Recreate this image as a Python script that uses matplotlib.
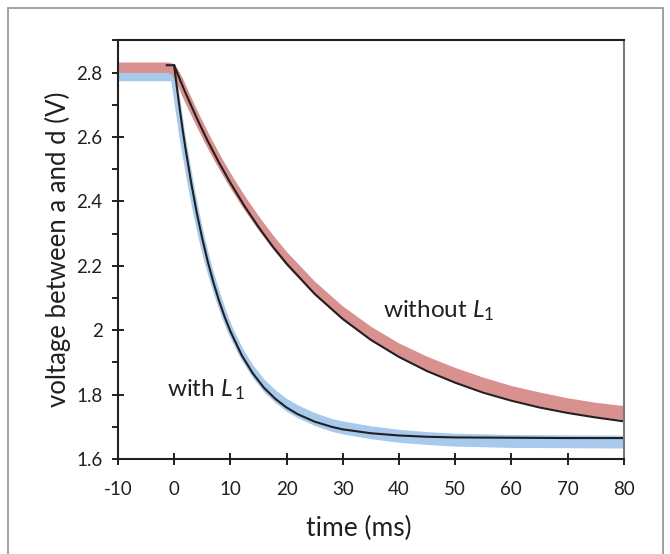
import matplotlib
matplotlib.use("Agg")
import matplotlib.pyplot as plt
from matplotlib.patches import Rectangle
from matplotlib.ticker import MultipleLocator

plt.rcParams['font.family'] = ['Lato', 'DejaVu Sans']
plt.rcParams['mathtext.fontset'] = 'custom'
plt.rcParams['mathtext.rm'] = 'Lato'
plt.rcParams['mathtext.it'] = 'Lato:italic'
plt.rcParams['axes.unicode_minus'] = False

# ---- measured traces (read off the figure) ----
# with L1 (blue)
t_blue = [-10, -5, -0.3, 0, 0.5, 1, 1.5, 2, 3, 4, 5, 6, 7, 8, 9, 10, 12, 14, 16,
          18, 20, 22, 25, 28, 30, 35, 40, 45, 50, 60, 70, 80]
v_blue = [2.795, 2.795, 2.795, 2.78, 2.72, 2.66, 2.60, 2.55, 2.45, 2.36, 2.28,
          2.21, 2.15, 2.095, 2.045, 2.00, 1.928, 1.872, 1.828, 1.795, 1.768,
          1.748, 1.724, 1.706, 1.698, 1.683, 1.672, 1.665, 1.660, 1.656, 1.655,
          1.654]
blue_noise = 0.02

# without L1 (red)
t_red = [-10, -5, -1, 0, 1, 2, 3, 4, 5, 6, 8, 10, 12.5, 15, 17.5, 20, 25, 30,
         35, 40, 45, 50, 55, 60, 65, 70, 75, 80]
v_red = [2.811, 2.811, 2.811, 2.806, 2.775, 2.735, 2.697, 2.66, 2.625, 2.59,
         2.525, 2.465, 2.396, 2.333, 2.275, 2.222, 2.130, 2.053, 1.990, 1.938,
         1.897, 1.862, 1.832, 1.806, 1.786, 1.768, 1.754, 1.744]
red_noise = 0.022

# ---- fitted curves (black) ----
t_fit_blue = [0, 0.5, 1, 1.5, 2, 3, 4, 5, 6, 7, 8, 9, 10, 12, 14, 16, 18, 20,
              22, 25, 28, 30, 35, 40, 45, 50, 60, 70, 80]
v_fit_blue = [2.823, 2.753, 2.687, 2.625, 2.567, 2.461, 2.367, 2.285, 2.212,
              2.148, 2.091, 2.041, 1.997, 1.923, 1.866, 1.821, 1.787, 1.760,
              1.739, 1.716, 1.700, 1.692, 1.680, 1.673, 1.669, 1.667, 1.666,
              1.665, 1.665]

t_fit_red = [-1.3, 0, 1, 2, 3, 4, 5, 6, 8, 10, 12.5, 15, 17.5, 20, 25, 30, 35,
             40, 45, 50, 55, 60, 65, 70, 75, 80]
v_fit_red = [2.823, 2.823, 2.780, 2.738, 2.699, 2.660, 2.623, 2.587, 2.520,
             2.458, 2.386, 2.321, 2.261, 2.207, 2.113, 2.035, 1.970, 1.917,
             1.873, 1.837, 1.806, 1.781, 1.760, 1.743, 1.729, 1.717]

RED = '#d8918f'
BLUE = '#a7c9ec'
INK = '#231f20'

fig = plt.figure(figsize=(6.70, 5.54), dpi=100)
ax = fig.add_axes([0.176, 0.1715, 0.755, 0.7555])

# outer frame
fig.patches.append(Rectangle((0.012, -0.02), 0.978, 1.006, transform=fig.transFigure,
                             fill=False, edgecolor='#9a9a9a', linewidth=1.3))

# noisy data shown as bands
ax.fill_between(t_blue, [v - blue_noise for v in v_blue], [v + blue_noise for v in v_blue],
                color=BLUE, linewidth=0)
ax.plot(t_blue, v_blue, color=BLUE, linewidth=4.5, solid_capstyle='butt')
ax.fill_between(t_red, [v - red_noise for v in v_red], [v + red_noise for v in v_red],
                color=RED, linewidth=0)
ax.plot(t_red, v_red, color=RED, linewidth=5.5, solid_capstyle='butt')

# fits
ax.plot(t_fit_blue, v_fit_blue, color=INK, linewidth=1.5)
ax.plot(t_fit_red, v_fit_red, color=INK, linewidth=1.5)

ax.text(37.2, 2.06, 'without $\\mathit{L}_1$', fontsize=17.5, color=INK, va='center')
ax.text(-1.2, 1.814, 'with $\\mathit{L}_{\\,1}$', fontsize=17.5, color=INK, va='center')

ax.set_xlim(-10, 80)
ax.set_ylim(1.6, 2.9)
ax.set_xticks(range(-10, 81, 10))
ax.set_yticks([1.6, 1.8, 2.0, 2.2, 2.4, 2.6, 2.8])
ax.set_yticklabels(['1.6', '1.8', '2', '2.2', '2.4', '2.6', '2.8'])
ax.yaxis.set_minor_locator(MultipleLocator(0.1))

ax.tick_params(which='major', direction='inout', length=9, width=1.4, colors=INK,
               labelsize=13.5)
ax.tick_params(axis='x', which='major', pad=11)
ax.tick_params(axis='y', which='major', pad=6.5)
ax.tick_params(axis='y', which='minor', direction='out', length=4.5, width=1.4, colors=INK)
ax.tick_params(axis='x', which='minor', bottom=False)

for side in ['left', 'bottom', 'top']:
    ax.spines[side].set_color(INK)
    ax.spines[side].set_linewidth(1.5)
ax.spines['right'].set_color('#7a7a7a')
ax.spines['right'].set_linewidth(1.5)

ax.set_xlabel('time (ms)', fontsize=19, color=INK)
ax.xaxis.set_label_coords(0.476, -0.135)
fig.text(0.0858, 0.5505, 'voltage between a and d (V)', fontsize=18.5, color=INK,
         rotation=90, ha='center', va='center')

fig.savefig('out.png', dpi=100)
